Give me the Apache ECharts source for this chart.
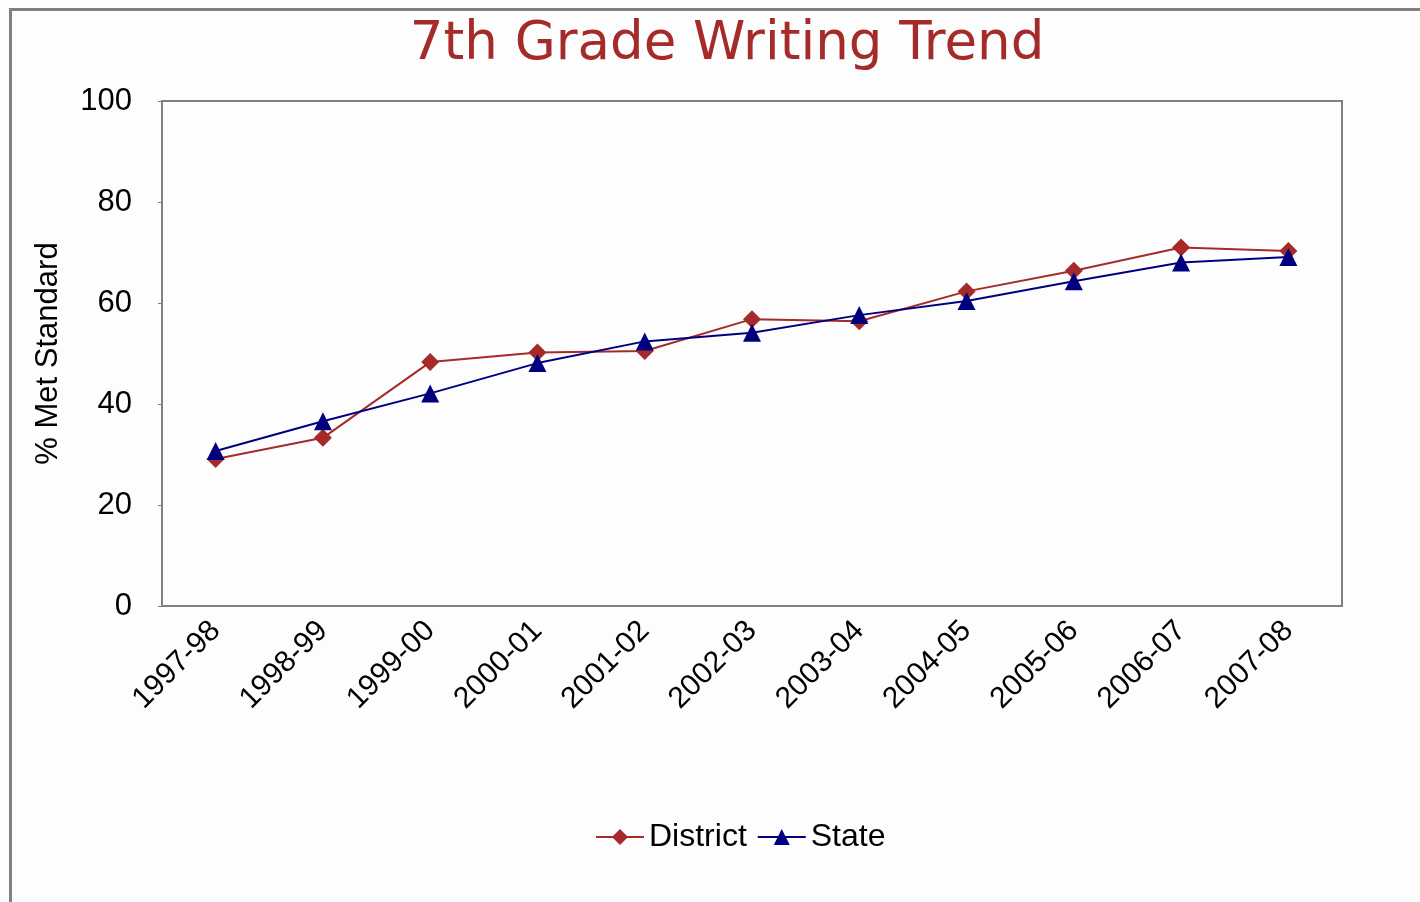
<!DOCTYPE html>
<html>
<head>
<meta charset="utf-8">
<script src="https://cdn.jsdelivr.net/npm/echarts@6/dist/echarts.min.js"></script>
<style>
  html, body { margin: 0; padding: 0; background: #fdfdfd; }
  #frame {
    position: absolute; left: 9px; top: 8px; width: 1420px; height: 902px;
    border-left: 3px solid #808080; border-top: 3px solid #808080;
  }
  #chart { position: absolute; left: 0; top: 0; width: 1420px; height: 902px; }
</style>
</head>
<body>
<div id="frame"></div>
<div id="chart"></div>
<script>
// school years on the x axis
const years = ['1997-98', '1998-99', '1999-00', '2000-01', '2001-02', '2002-03',
  '2003-04', '2004-05', '2005-06', '2006-07', '2007-08'];
// % met standard
const district = [29.1, 33.3, 48.3, 50.2, 50.5, 56.8, 56.4, 62.3, 66.4, 71.0, 70.3];
const state = [30.7, 36.6, 42.1, 48.1, 52.4, 54.1, 57.6, 60.4, 64.3, 68.0, 69.1];

const chart = echarts.init(document.getElementById('chart'));
const gray = '#808080';
const axisFont = 'Liberation Sans';

chart.setOption({
  animation: false,
  title: {
    text: '7th Grade Writing Trend',
    left: 722,
    textAlign: 'center',
    top: 14,
    textStyle: { color: '#A52A2A', fontSize: 53, fontWeight: 'normal', fontFamily: 'DejaVu Sans' }
  },
  legend: {
    bottom: 44,
    left: 590,
    itemWidth: 48,
    itemHeight: 20,
    itemGap: 10,
    textStyle: { color: '#000', fontSize: 32, fontFamily: axisFont },
    data: ['District', 'State']
  },
  grid: { left: 162, top: 101, width: 1180, height: 505, show: true, borderColor: gray, borderWidth: 2 },
  xAxis: {
    type: 'category',
    data: years,
    boundaryGap: true,
    axisLine: { lineStyle: { color: gray, width: 2 } },
    axisTick: { alignWithLabel: true, length: 12, lineStyle: { color: gray, width: 2 } },
    axisLabel: { rotate: 45, color: '#000', fontSize: 30, fontFamily: axisFont, margin: 20 }
  },
  yAxis: {
    type: 'value',
    min: 0, max: 100, interval: 20,
    name: '% Met Standard',
    nameLocation: 'middle',
    nameGap: 98,
    nameTextStyle: { color: '#000', fontSize: 31, fontFamily: axisFont },
    axisLine: { show: true, lineStyle: { color: gray, width: 2 } },
    axisTick: { show: true, length: 4, lineStyle: { color: gray } },
    splitLine: { show: false },
    axisLabel: { color: '#000', fontSize: 31, fontFamily: axisFont, margin: 30 }
  },
  series: [
    {
      name: 'District',
      type: 'line',
      data: district,
      symbol: 'diamond',
      symbolSize: 18,
      lineStyle: { color: '#A52A2A', width: 2 },
      itemStyle: { color: '#A52A2A' }
    },
    {
      name: 'State',
      type: 'line',
      data: state,
      symbol: 'triangle',
      symbolSize: 18,
      lineStyle: { color: '#00007F', width: 2 },
      itemStyle: { color: '#00007F' }
    }
  ]
});
</script>
</body>
</html>
